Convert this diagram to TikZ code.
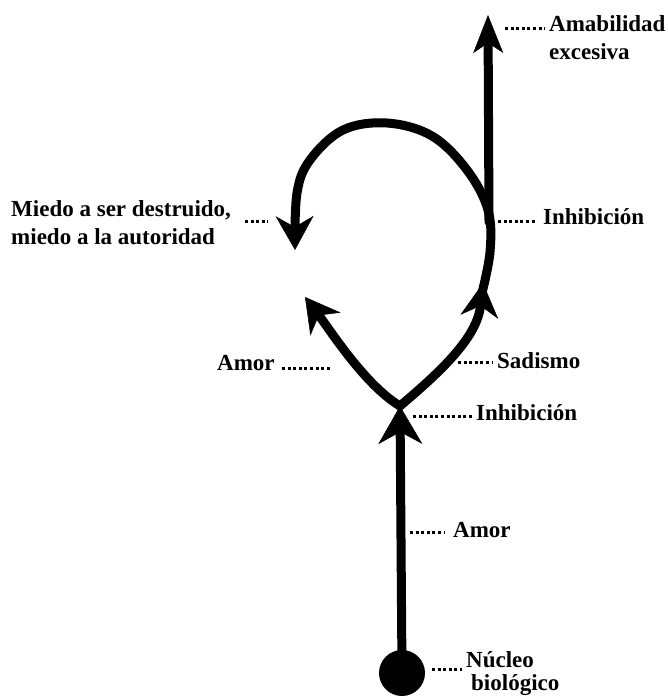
\documentclass[tikz,border=0pt]{standalone}
\usepackage{fontspec}
\setmainfont{Liberation Serif}
\usetikzlibrary{arrows.meta}
\begin{document}
\begin{tikzpicture}[x=1pt,y=-1pt,
  stroke/.style={line width=9pt, line cap=round, line join=round},
  tip/.style={-{Stealth[length=34pt,width=38pt,inset=11pt,line width=0.5pt]}},
  tiptop/.style={-{Stealth[length=38pt,width=30pt,inset=10pt,line width=0.5pt]}},
  tipstem/.style={-{Stealth[length=38pt,width=44pt,inset=12pt,line width=0.5pt]}},
  lab/.style={anchor=base west, inner sep=0pt, font=\fontsize{23}{27}\selectfont\bfseries},
  leader/.style={line width=3pt, dash pattern=on 3pt off 2.6pt}]
\useasboundingbox (0,0) rectangle (667,700);

% labels
\node[lab] (amab) at (549,32) {Amabilidad};
\node[lab] (exc) at (549,60) {excesiva};
\node[lab] (miedo1) at (11,217) {Miedo a ser destruido,};
\node[lab] (miedo2) at (11,244) {miedo a la autoridad};
\node[lab] (inh1) at (543,225) {Inhibición};
\node[lab] (amor1) at (217,370) {Amor};
\node[lab] (sad) at (497,368) {Sadismo};
\node[lab] (inh2) at (476,420) {Inhibición};
\node[lab] (amor2) at (453,537) {Amor};
\node[lab] (nuc1) at (466,667) {Núcleo};
\node[lab] (nuc2) at (471,690) {biológico};

% leader ends
\coordinate (la1) at (505,29);  \coordinate (la2) at (545,29);
\coordinate (lm1) at (245,222); \coordinate (lm2) at (268,222);
\coordinate (li1) at (498,222); \coordinate (li2) at (535,222);
\coordinate (lo1) at (282,368); \coordinate (lo2) at (332,368);
\coordinate (ls1) at (458,362); \coordinate (ls2) at (492,362);
\coordinate (lj1) at (413,416); \coordinate (lj2) at (472,416);
\coordinate (lp1) at (410,532); \coordinate (lp2) at (445,532);
\coordinate (ln1) at (432,669); \coordinate (ln2) at (462,669);
\foreach \a/\b in {la1/la2,lm1/lm2,li1/li2,lo1/lo2,ls1/ls2,lj1/lj2,lp1/lp2,ln1/ln2}
  \draw[leader] (\a) -- (\b);

% nucleus and stem
\node[circle, fill, minimum size=46pt, inner sep=0pt] (core) at (402,673) {};
\coordinate (fork) at (400,406);
\draw[stroke,tipstem] (core.center) -- (fork);

% branches
\coordinate (amortip) at (305,297);
\coordinate (sadtip) at (483,283);
\draw[stroke,tip] (fork) .. controls (365,385) and (330,330) .. (amortip);
\draw[stroke,tip] (fork) .. controls (440,372) and (477,338) .. (sadtip);

% loop
\draw[stroke,tip] plot[smooth,tension=0.6] coordinates {(481,297) (490,252) (488,210) (467,170) (432,136) (387,123) (343,130) (310,160) (297,193) (295,250)};

% top vertical
\coordinate (loopjoin) at (489,222);
\coordinate (toptip) at (488,15);
\draw[stroke,tiptop] (loopjoin) -- (toptip);
\end{tikzpicture}
\end{document}
